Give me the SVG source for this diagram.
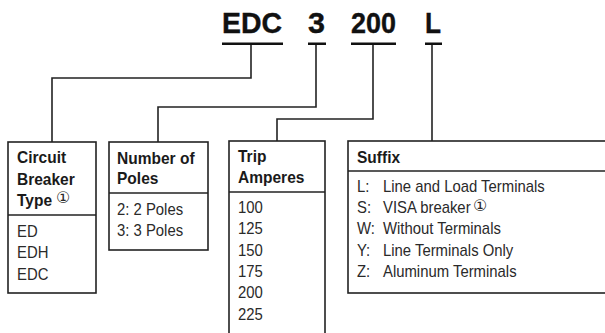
<svg xmlns="http://www.w3.org/2000/svg" width="605" height="333" viewBox="0 0 605 333">
<style>
.t{font-family:"Liberation Sans",Arial,sans-serif;font-weight:bold;font-size:30px;fill:#111;stroke:#111;stroke-width:0.4}
.h{font-family:"Liberation Sans",Arial,sans-serif;font-weight:bold;font-size:16.7px;fill:#1a1a1a;transform-box:fill-box;transform-origin:0 0;transform:scaleX(0.93)}
.b{font-family:"Liberation Sans",Arial,sans-serif;font-size:16px;fill:#2a2a2a;transform-box:fill-box;transform-origin:0 0;transform:scaleX(0.93)}
.c{font-family:"DejaVu Sans","Noto Sans CJK SC",sans-serif;font-size:16px;fill:#2a2a2a}
.box{fill:#fff;stroke:#222;stroke-width:1.6}
.div{stroke:#222;stroke-width:1.6}
.ln{fill:none;stroke:#222;stroke-width:1.6}
.ul{fill:#111}
</style>
<rect width="605" height="333" fill="#fff"/>
<g id="code">
<text class="t" x="222" y="33" textLength="60" lengthAdjust="spacingAndGlyphs">EDC</text>
<text class="t" x="308" y="33" textLength="17" lengthAdjust="spacingAndGlyphs">3</text>
<text class="t" x="351" y="33" textLength="45" lengthAdjust="spacingAndGlyphs">200</text>
<text class="t" x="425" y="33" textLength="16" lengthAdjust="spacingAndGlyphs">L</text>
<rect class="ul" x="222" y="42.5" width="61" height="2.5"/>
<rect class="ul" x="308" y="42.5" width="18" height="2.5"/>
<rect class="ul" x="351" y="42.5" width="45" height="2.5"/>
<rect class="ul" x="425" y="42.5" width="17" height="2.5"/>
</g>
<g id="connectors">
<polyline class="ln" points="251,45 251,78 52,78 52,142"/>
<polyline class="ln" points="316,45 316,107 158,107 158,142"/>
<polyline class="ln" points="373,45 373,119 277,119 277,141"/>
<polyline class="ln" points="432,45 432,141"/>
</g>
<g id="type">
<rect class="box" x="8" y="142" width="88" height="151"/>
<line class="div" x1="8" y1="215" x2="96" y2="215"/>
<text class="h" x="17" y="163">Circuit</text>
<text class="h" x="17" y="185">Breaker</text>
<text class="h" x="17" y="206">Type</text>
<text class="c" x="56" y="203">①</text>
<text class="b" x="17" y="237">ED</text>
<text class="b" x="17" y="258">EDH</text>
<text class="b" x="17" y="280">EDC</text>
</g>
<g id="poles">
<rect class="box" x="109" y="142" width="99" height="108"/>
<line class="div" x1="109" y1="193" x2="208" y2="193"/>
<text class="h" x="117" y="164">Number of</text>
<text class="h" x="117" y="184">Poles</text>
<text class="b" x="117" y="215">2: 2 Poles</text>
<text class="b" x="117" y="236">3: 3 Poles</text>
</g>
<g id="amperes">
<rect class="box" x="229" y="141" width="96" height="210"/>
<line class="div" x1="229" y1="192" x2="325" y2="192"/>
<text class="h" x="238" y="162">Trip</text>
<text class="h" x="238" y="183">Amperes</text>
<text class="b" x="238" y="213">100</text>
<text class="b" x="238" y="234.5">125</text>
<text class="b" x="238" y="256">150</text>
<text class="b" x="238" y="277">175</text>
<text class="b" x="238" y="298">200</text>
<text class="b" x="238" y="320">225</text>
</g>
<g id="suffix">
<rect class="box" x="348" y="141" width="270" height="152"/>
<line class="div" x1="348" y1="171" x2="610" y2="171"/>
<text class="h" x="357" y="163">Suffix</text>
<text class="b" x="357" y="192">L:</text>
<text class="b" x="383" y="192">Line and Load Terminals</text>
<text class="b" x="357" y="213">S:</text>
<text class="b" x="383" y="213">VISA breaker</text>
<text class="c" x="473" y="211">①</text>
<text class="b" x="357" y="234">W:</text>
<text class="b" x="383" y="234">Without Terminals</text>
<text class="b" x="357" y="256">Y:</text>
<text class="b" x="383" y="256">Line Terminals Only</text>
<text class="b" x="357" y="277">Z:</text>
<text class="b" x="383" y="277">Aluminum Terminals</text>
</g>
</svg>
